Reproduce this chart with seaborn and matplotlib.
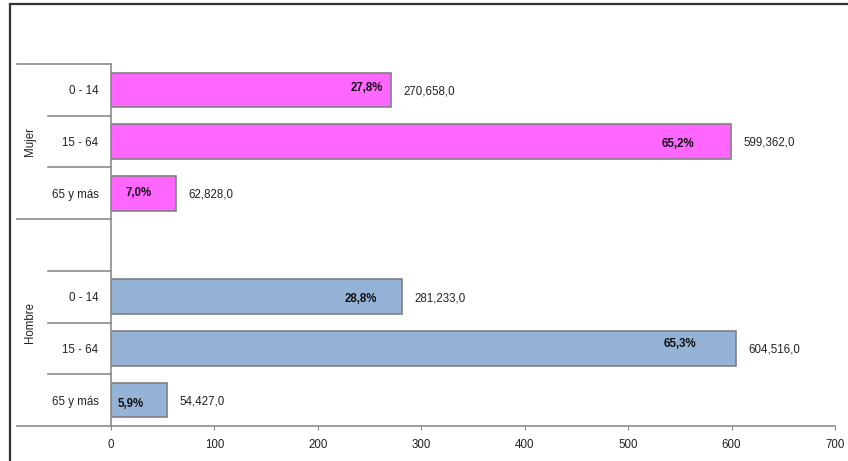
import matplotlib
matplotlib.use("Agg")
import matplotlib.pyplot as plt
import matplotlib.transforms as mtransforms
from matplotlib.lines import Line2D
import seaborn as sns
import pandas as pd

# ---- data ----
sexes = ["Mujer", "Hombre"]
age_groups = ["0 - 14", "15 - 64", "65 y más"]
mujer_values = [270.658, 599.362, 62.828]     # thousands
hombre_values = [281.233, 604.516, 54.427]    # thousands
mujer_pct = ["27,8%", "65,2%", "7,0%"]
hombre_pct = ["28,8%", "65,3%", "5,9%"]
x_ticks = [0, 100, 200, 300, 400, 500, 600, 700]

# label placement (x in data units, dy in points) for the percentage labels
pct_label_x = [247.5, 548.0, 27.0, 241.5, 550.0, 19.5]
pct_label_dy = [1, -2, 0.5, -2, 3, -3]

colors = {"Mujer": "#FF66FF", "Hombre": "#95B3D7"}

# ---- build table ----
slots, vals, sx, pcts, ages = [], [], [], [], []
for a, v, p in zip(age_groups, mujer_values, mujer_pct):
    slots.append("Mujer " + a); vals.append(v); sx.append("Mujer"); pcts.append(p); ages.append(a)
for a, v, p in zip(age_groups, hombre_values, hombre_pct):
    slots.append("Hombre " + a); vals.append(v); sx.append("Hombre"); pcts.append(p); ages.append(a)
df = pd.DataFrame({"slot": slots, "value": vals, "sexo": sx})
order = slots[:3] + ["gap"] + slots[3:]
tick_labels = ages[:3] + [""] + ages[3:]

plt.rcParams["font.family"] = ["Liberation Sans", "DejaVu Sans"]

fig = plt.figure(figsize=(8.48, 4.61), dpi=100)
ax = fig.add_axes([111 / 848, 1 - 426 / 461, 724 / 848, 362 / 461])

sns.barplot(data=df, x="value", y="slot", hue="sexo", order=order,
            palette=colors, saturation=1, dodge=False, width=0.67,
            edgecolor="#808080", linewidth=1.2, legend=False, ax=ax, orient="h")

ax.set_xlim(0, 700)
ax.set_ylim(6.5, -0.5)
ax.set_xticks(x_ticks)
ax.set_xticklabels([str(t) for t in x_ticks])
ax.set_yticks(range(len(order)))
ax.set_yticklabels(tick_labels)
ax.set_xlabel("")
ax.set_ylabel("")
ax.tick_params(axis="x", direction="out", length=3, color="#868686",
               labelsize=8.3, labelcolor="#222222", pad=6)
ax.tick_params(axis="y", length=0, labelsize=8.3, labelcolor="#222222", pad=9)
for s in ["top", "right"]:
    ax.spines[s].set_visible(False)
for s in ["left", "bottom"]:
    ax.spines[s].set_color("#8C8C8C")
    ax.spines[s].set_linewidth(1.2)

# category separator lines (multi-level axis)
trans = mtransforms.blended_transform_factory(ax.transAxes, ax.transData)
long_x = (17 - 111) / 724
short_x = (48 - 111) / 724
for yb in [-0.5, 2.5, 6.5]:
    ax.add_line(Line2D([long_x, 0], [yb, yb], transform=trans, color="#8C8C8C",
                       lw=1.2, clip_on=False))
for yb in [0.5, 1.5, 3.5, 4.5, 5.5]:
    ax.add_line(Line2D([short_x, 0], [yb, yb], transform=trans, color="#8C8C8C",
                       lw=1.2, clip_on=False))

# group labels
grp_x = (30 - 111) / 724
ax.text(grp_x, 1.0, sexes[0], transform=trans, rotation=90, ha="center",
        va="center", fontsize=8.3, color="#222222")
ax.text(grp_x, 4.5, sexes[1], transform=trans, rotation=90, ha="center",
        va="center", fontsize=8.3, color="#222222")

# value and percentage labels
ypos = [0, 1, 2, 4, 5, 6]
for i, (y, v, p) in enumerate(zip(ypos, vals, pcts)):
    txt = f"{v * 1000:,.0f},0"
    ax.annotate(txt, xy=(v, y), xytext=(9, -1), textcoords="offset points",
                ha="left", va="center", fontsize=8.3, color="#222222")
    ax.annotate(p, xy=(pct_label_x[i], y), xytext=(0, pct_label_dy[i]),
                textcoords="offset points", ha="center", va="center",
                fontsize=8.3, fontweight="bold", color="#111111")

# outer frame (partial, as in the reference)
fig.add_artist(Line2D([9.5 / 848, 9.5 / 848], [0, 1 - 4 / 461],
                      transform=fig.transFigure, color="#333333", lw=1.6))
fig.add_artist(Line2D([9.5 / 848, 1], [1 - 4 / 461, 1 - 4 / 461],
                      transform=fig.transFigure, color="#333333", lw=1.6))

fig.savefig("out.png", dpi=100, facecolor="white")
